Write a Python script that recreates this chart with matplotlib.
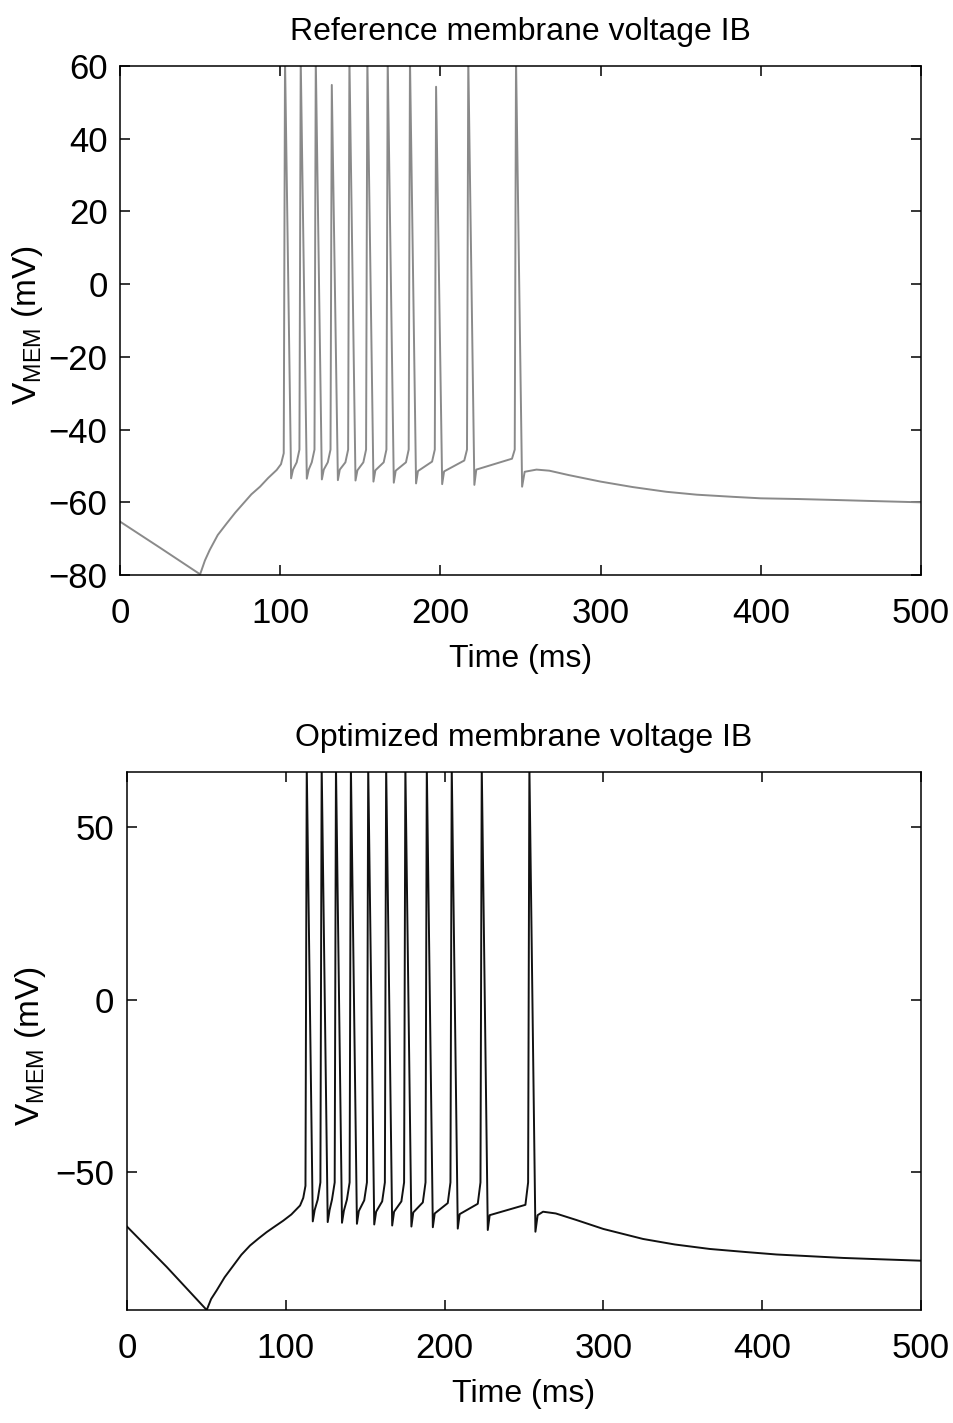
import numpy as np
import matplotlib
matplotlib.use("Agg")
import matplotlib.pyplot as plt

plt.rcParams['font.family'] = ['Liberation Sans', 'DejaVu Sans']
plt.rcParams['mathtext.fontset'] = 'custom'
plt.rcParams['mathtext.rm'] = 'Liberation Sans'

# --- reference trace (top) ---
top_pre_t = [0, 25, 50, 53, 56, 61, 66.6, 72, 77, 82, 87.4, 92.5, 97.8, 100.5, 102.2]
top_pre_v = [-65.3, -72.5, -79.8, -76.0, -73.1, -69.0, -65.8, -62.8, -60.3, -57.8, -55.7, -53.3, -51.1, -49.5, -46.5]
top_spike_t = [103.0, 112.8, 122.2, 132.2, 143.2, 154.4, 167.1, 181.0, 197.3, 217.4, 247.2]
top_peak_v = [62, 62, 62, 54.8, 62, 62, 62, 62, 54.3, 62, 62]
top_trough_v = [-53.4, -53.5, -53.7, -53.9, -54.0, -54.3, -54.6, -54.8, -55.0, -55.2, -55.7]
top_plat_v = [-51.0, -51.0, -51.0, -51.0, -51.2, -51.2, -51.3, -51.4, -51.5, -51.0]
top_ramp_v = [-49.0, -49.0, -49.0, -49.0, -49.0, -49.0, -49.0, -48.8, -48.5, -48.0]
top_knee_v = [-45.5] * 10
top_post_t = [252.6, 260, 268, 280, 300, 320, 341, 360, 383, 400, 424, 450, 466, 500]
top_post_v = [-51.6, -51.0, -51.3, -52.5, -54.3, -55.8, -57.1, -57.9, -58.5, -58.9, -59.1, -59.4, -59.6, -60.0]

# --- optimized trace (bottom) ---
bot_pre_t = [0, 25, 50.2, 53, 56.5, 61.5, 67, 72, 77.5, 83, 88, 93, 98.4, 103.5, 109, 111, 112.4]
bot_pre_v = [-65.8, -77.5, -90.0, -86.8, -84.3, -80.5, -77.1, -74.0, -71.3, -69.2, -67.4, -65.8, -64.1, -62.3, -59.7, -57.5, -54.0]
bot_spike_t = [113.2, 122.6, 131.6, 141.0, 151.9, 163.2, 175.3, 188.8, 204.5, 223.4, 253.4]
bot_peak_v = [68] * 11
bot_trough_v = [-64.3, -64.5, -64.7, -65.0, -65.2, -65.5, -65.8, -66.0, -66.4, -66.8, -67.3]
bot_plat_v = [-61.0, -61.0, -61.2, -61.3, -61.5, -61.5, -61.7, -62.0, -62.2, -62.5]
bot_ramp_v = [-58.0, -58.0, -58.0, -58.2, -58.5, -58.5, -58.8, -59.0, -59.2, -59.5]
bot_knee_v = [-53.0] * 10
bot_post_t = [258.6, 262, 270, 283, 300, 325, 345, 367, 390, 409, 430, 451, 475, 500]
bot_post_v = [-62.5, -61.5, -62.0, -63.9, -66.5, -69.4, -71.0, -72.3, -73.2, -73.9, -74.4, -74.9, -75.3, -75.7]


def build_trace(pre_t, pre_v, spk_t, peak_v, trough_v, plat_v, ramp_v, knee_v, post_t, post_v):
    t = list(pre_t)
    v = list(pre_v)
    n = len(spk_t)
    for i in range(n):
        t.append(spk_t[i]); v.append(peak_v[i])
        t.append(spk_t[i] + 3.8); v.append(trough_v[i])
        if i < n - 1:
            t += [spk_t[i] + 5.0, spk_t[i + 1] - 2.5, spk_t[i + 1] - 0.8]
            v += [plat_v[i], ramp_v[i], knee_v[i]]
    t += post_t
    v += post_v
    return np.array(t), np.array(v)


t1, v1 = build_trace(top_pre_t, top_pre_v, top_spike_t, top_peak_v, top_trough_v,
                     top_plat_v, top_ramp_v, top_knee_v, top_post_t, top_post_v)
t2, v2 = build_trace(bot_pre_t, bot_pre_v, bot_spike_t, bot_peak_v, bot_trough_v,
                     bot_plat_v, bot_ramp_v, bot_knee_v, bot_post_t, bot_post_v)

fig = plt.figure(figsize=(9.54, 14.23), dpi=100)
ax1 = fig.add_axes([0.1258, 0.5959, 0.8396, 0.3577])
ax2 = fig.add_axes([0.1331, 0.0794, 0.8323, 0.3781])

ax1.plot(t1, v1, color='#8a8a8a', lw=1.4)
ax2.plot(t2, v2, color='#111111', lw=1.4)

ax1.set_xlim(0, 500)
ax1.set_ylim(-80, 60)
ax1.set_yticks(np.arange(-80, 61, 20))
ax2.set_xlim(0, 500)
ax2.set_ylim(-90, 66)
ax2.set_yticks([-50, 0, 50])

ylab = r'$\mathregular{V_{MEM}}$ (mV)'
for ax, title, lx in [(ax1, 'Reference membrane voltage IB', -0.094),
                      (ax2, 'Optimized membrane voltage IB', -0.10)]:
    ax.set_xticks(np.arange(0, 501, 100))
    ax.tick_params(direction='in', top=True, right=True, length=7, width=1.1,
                   labelsize=25, colors='black')
    ax.tick_params(axis='x', pad=16)
    ax.tick_params(axis='y', pad=9)
    for s in ax.spines.values():
        s.set_linewidth(1.1)
    ax.set_title(title, fontsize=23, pad=19)
    ax.set_xlabel('Time (ms)', fontsize=23, labelpad=10)
    ax.set_ylabel(ylab, fontsize=24)
    ax.yaxis.set_label_coords(lx, 0.49)

fig.savefig('out.png', dpi=100, facecolor='white')
